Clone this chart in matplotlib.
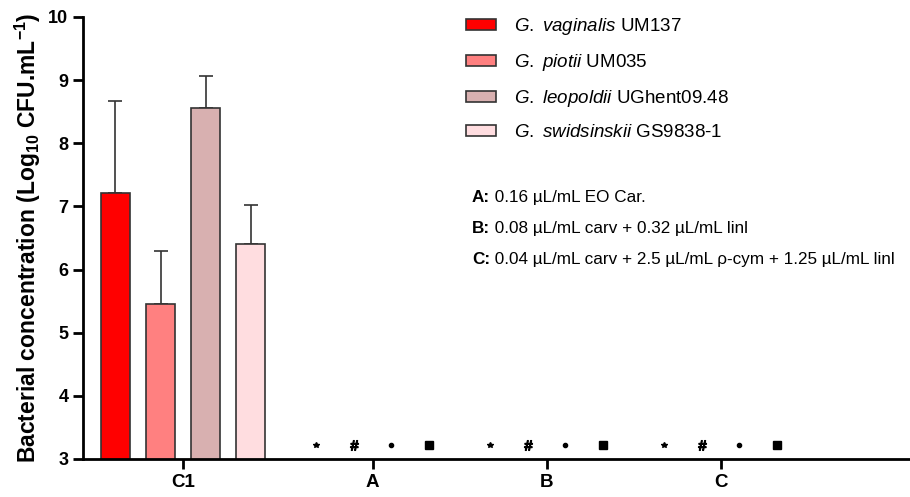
import matplotlib
matplotlib.use("Agg")
import matplotlib.pyplot as plt
from matplotlib.patches import Patch

plt.rcParams['font.family'] = ['Liberation Sans', 'DejaVu Sans']
plt.rcParams['mathtext.fontset'] = 'custom'
plt.rcParams['mathtext.rm'] = 'Liberation Sans'
plt.rcParams['mathtext.it'] = 'Liberation Sans:italic'
plt.rcParams['mathtext.bf'] = 'Liberation Sans:bold'

# data
groups = ["C1", "A", "B", "C"]
strains = [r"$\it{G.\ vaginalis}$ UM137", r"$\it{G.\ piotii}$ UM035",
           r"$\it{G.\ leopoldii}$ UGhent09.48", r"$\it{G.\ swidsinskii}$ GS9838-1"]
c1_mean = [7.21, 5.46, 8.55, 6.40]
c1_sd = [1.46, 0.83, 0.52, 0.62]
# A, B, C: no growth detected, shown as symbols just above the axis
nd_level = 3.22
nd_symbols = ["*", r"$\#$", "o", "s"]
nd_sizes = [4, 7, 3, 6]
colors = ["#ff0000", "#ff8080", "#d8b0b0", "#ffdde0"]
note_keys = ["A:", "B:", "C:"]
note_texts = [" 0.16 µL/mL EO Car.",
              " 0.08 µL/mL carv + 0.32 µL/mL linl",
              " 0.04 µL/mL carv + 2.5 µL/mL ρ-cym + 1.25 µL/mL linl"]

# layout
group_x = [0, 1.09, 2.09, 3.09]
bar_w = 0.167
bar_step = 0.259
nd_step = 0.2155

fig = plt.figure(figsize=(9.1, 4.97), dpi=100)
ax = fig.add_axes([0.0912, 0.0765, 0.9088, 0.8895])

for i in range(4):
    off = (i - 1.5) * bar_step
    ax.bar(group_x[0] + off, c1_mean[i], bottom=0, width=bar_w, color=colors[i],
           edgecolor="#333333", linewidth=1.2, zorder=2)
    ax.errorbar(group_x[0] + off, c1_mean[i], yerr=[[0], [c1_sd[i]]], fmt="none",
                ecolor="#333333", elinewidth=1.2, capsize=5, capthick=1.2, zorder=1)
    for g in group_x[1:]:
        ax.plot(g + (i - 1.5) * nd_step, nd_level, marker=nd_symbols[i],
                markersize=nd_sizes[i], color="black", linestyle="none", clip_on=False)

ax.set_ylim(3, 10)
ax.set_xlim(-0.575, 4.178)
ax.set_xticks(group_x)
ax.set_xticklabels(groups, fontweight="bold", fontsize=13.5)
ax.set_yticks(range(3, 11))
ax.set_yticklabels([str(v) for v in range(3, 11)], fontweight="bold", fontsize=13)
ax.tick_params(axis="both", width=2, length=7, direction="out")
ax.spines["top"].set_visible(False)
ax.spines["right"].set_visible(False)
ax.spines["left"].set_linewidth(2)
ax.spines["bottom"].set_linewidth(2)
ax.set_ylabel(r"Bacterial concentration (Log$_{\mathbf{10}}$ CFU.mL$^{\mathbf{-1}}$)",
              fontweight="bold", fontsize=16.5, labelpad=4)

handles = [Patch(facecolor=c, edgecolor="#333333", linewidth=1.2) for c in colors]
fig.legend(handles, strains, loc="upper left", bbox_to_anchor=(466 / 910, 1 - 16 / 497),
           frameon=False, fontsize=13.5, borderpad=0, borderaxespad=0,
           handlelength=1.6, handleheight=0.48, handletextpad=0.96, labelspacing=0.8)

for k in range(3):
    key = fig.text(472 / 910, 1 - (202 + 31 * k) / 497, note_keys[k], fontsize=12.3,
                   fontweight="bold", va="baseline", ha="left")
    ax.annotate(note_texts[k], xy=(1, 0), xycoords=key, fontsize=12.3,
                va="bottom", ha="left", annotation_clip=False)

fig.savefig("out.png", dpi=100)
